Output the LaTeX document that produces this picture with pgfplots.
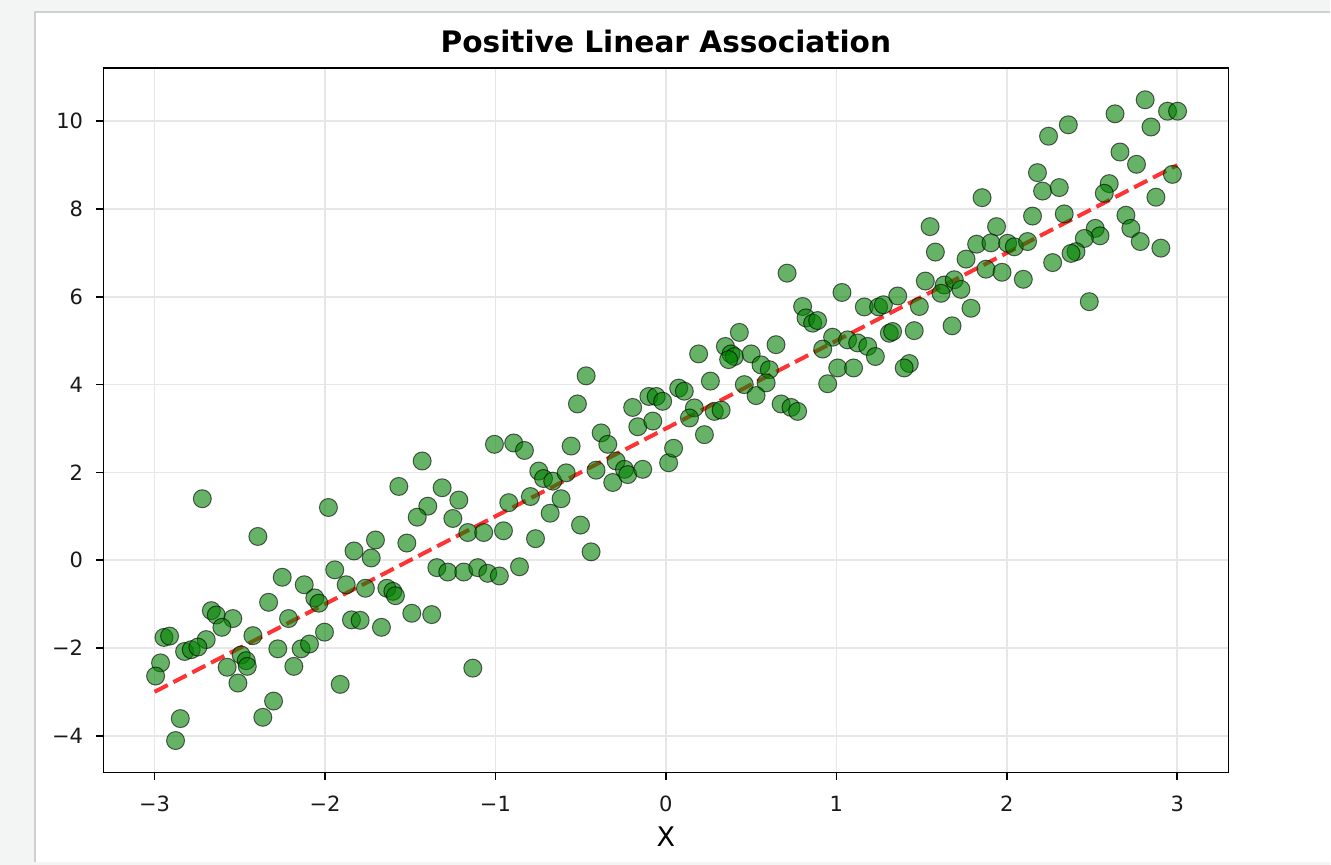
\documentclass[border=0pt]{standalone}
\usepackage{fontspec}
\setmainfont{DejaVu Sans}
\usepackage{pgfplots}
\pgfplotsset{compat=1.18}
\definecolor{mplgreen}{rgb}{0,0.5,0}
\definecolor{gridgray}{HTML}{E7E7E7}
\definecolor{outerbg}{HTML}{F3F5F4}
\definecolor{panelline}{HTML}{CFCFCF}

\pgfplotstableread{
x y
-2.72 1.40
-2.394 0.54
-1.98 1.20
-1.567 1.68
-1.704 0.46
-1.83 0.21
-1.729 0.05
-1.943 -0.22
-2.251 -0.39
-2.122 -0.56
-1.876 -0.56
-1.763 -0.64
-2.06 -0.86
-2.036 -0.98
-1.637 -0.64
-1.602 -0.71
-1.587 -0.81
-2.331 -0.96
-2.667 -1.15
-2.638 -1.25
-2.541 -1.33
-2.605 -1.53
-2.214 -1.33
-1.845 -1.36
-1.794 -1.37
-1.669 -1.53
-2.945 -1.76
-2.912 -1.73
-2.697 -1.81
-2.824 -2.08
-2.785 -2.04
-2.746 -1.98
-2.423 -1.72
-2.492 -2.16
-2.462 -2.29
-2.277 -2.02
-2.14 -2.02
-2.091 -1.91
-2.003 -1.64
-2.965 -2.34
-2.994 -2.64
-2.574 -2.44
-2.456 -2.42
-2.183 -2.42
-2.511 -2.80
-1.911 -2.83
-2.302 -3.21
-2.365 -3.58
-2.849 -3.61
-2.877 -4.11
-0.519 3.56
-1.43 2.26
-1.313 1.65
-1.397 1.23
-1.459 0.98
-1.215 1.37
-1.25 0.95
-1.52 0.39
-1.162 0.63
-1.069 0.63
-0.953 0.67
-1.006 2.64
-0.893 2.67
-0.83 2.50
-0.746 2.03
-0.718 1.86
-0.664 1.80
-0.585 1.99
-0.556 2.60
-0.795 1.45
-0.922 1.31
-0.615 1.40
-0.679 1.07
-0.765 0.49
-0.501 0.80
-0.439 0.19
-0.38 2.90
-0.341 2.64
-0.41 2.05
-0.312 1.77
-0.292 2.26
-0.243 2.07
-0.224 1.95
-0.136 2.07
-0.195 3.48
-0.165 3.04
-0.077 3.17
-0.10 3.73
-0.057 3.73
-0.019 3.62
0.016 2.22
0.045 2.55
-1.344 -0.17
-1.28 -0.27
-1.186 -0.27
-1.104 -0.17
-1.045 -0.30
-0.977 -0.36
-0.859 -0.15
-1.491 -1.21
-1.374 -1.24
-1.133 -2.46
-0.468 4.20
0.711 6.54
1.033 6.10
0.802 5.78
0.822 5.52
0.861 5.40
0.89 5.46
1.164 5.77
1.248 5.77
1.276 5.82
1.36 6.02
0.431 5.19
0.192 4.70
0.349 4.87
0.382 4.70
0.402 4.64
0.368 4.57
0.50 4.70
0.646 4.91
0.558 4.45
0.607 4.34
0.588 4.04
0.46 4.00
0.529 3.75
0.261 4.08
0.676 3.56
0.734 3.48
0.773 3.39
0.978 5.08
1.066 5.02
1.125 4.95
1.184 4.87
1.229 4.64
0.92 4.81
1.008 4.38
1.101 4.38
0.949 4.02
1.311 5.17
1.33 5.21
0.075 3.92
0.108 3.85
0.167 3.47
0.138 3.24
0.284 3.39
0.324 3.42
0.226 2.86
2.812 10.49
2.943 10.23
3.002 10.23
2.635 10.17
2.846 9.87
2.361 9.92
2.245 9.66
2.664 9.30
2.761 9.02
2.972 8.79
2.18 8.83
2.601 8.58
2.572 8.36
2.21 8.41
2.308 8.49
2.875 8.27
1.855 8.26
2.151 7.84
2.337 7.89
2.699 7.86
2.728 7.56
2.783 7.26
2.904 7.11
2.519 7.56
2.547 7.39
2.455 7.33
2.406 7.03
2.377 6.99
2.269 6.78
2.484 5.89
1.55 7.60
1.581 7.02
1.94 7.60
1.823 7.20
1.907 7.23
2.005 7.22
2.044 7.14
2.122 7.26
1.761 6.86
1.878 6.63
1.972 6.56
2.097 6.40
1.522 6.36
1.633 6.27
1.692 6.39
1.614 6.08
1.731 6.17
1.79 5.74
1.679 5.34
1.487 5.78
1.457 5.23
1.428 4.48
1.398 4.38
}\pointsdata

\begin{document}
\begin{tikzpicture}
% window background and white panel
\fill[outerbg] (0,0) rectangle (665.5pt,432.5pt);
\fill[white] (17.5pt,1.5pt) rectangle (665.5pt,426.5pt);
\draw[panelline, line width=0.7pt] (17.5pt,1.5pt) -- (17.5pt,426.5pt) -- (665.5pt,426.5pt);
\begin{axis}[
  at={(51.75pt,46pt)}, anchor=south west,
  scale only axis, width=562.75pt, height=352.6pt,
  xmin=-3.3, xmax=3.3, ymin=-4.84, ymax=11.22,
  xtick={-3,-2,-1,0,1,2,3},
  xticklabels={−3,−2,−1,0,1,2,3},
  ytick={-4,-2,0,2,4,6,8,10},
  yticklabels={−4,−2,0,2,4,6,8,10},
  tick pos=left, tick align=outside, major tick length=3.5pt,
  tick style={line width=0.8pt, black},
  axis line style={line width=0.8pt},
  grid=major, major grid style={line width=0.8pt, draw=gridgray},
  tick label style={font=\fontsize{10.5}{12}\selectfont, inner sep=0pt, text=black!90},
  xticklabel style={anchor=base, yshift=-16pt},
  yticklabel style={anchor=east, xshift=-6.5pt},
  title={Positive Linear Association},
  title style={at={(0.5,1)}, anchor=base, yshift=1.45pt, inner sep=0pt,
    font=\bfseries\fontsize{14.8}{17}\selectfont},
  xlabel={X},
  xlabel style={at={(0.5,0)}, anchor=base, yshift=-37pt, inner sep=0pt,
    font=\fontsize{13.5}{16}\selectfont},
]
\addplot[only marks, mark=*, mark size=4.5pt,
  mark options={fill=mplgreen, fill opacity=0.6, draw=black, draw opacity=0.6, line width=0.5pt}]
  table[x=x, y=y] {\pointsdata};
\addplot[red, opacity=0.8, line width=2pt, dash pattern=on 7.4pt off 3.2pt]
  coordinates {(-3,-3) (3,9)};
\end{axis}
\end{tikzpicture}
\end{document}
